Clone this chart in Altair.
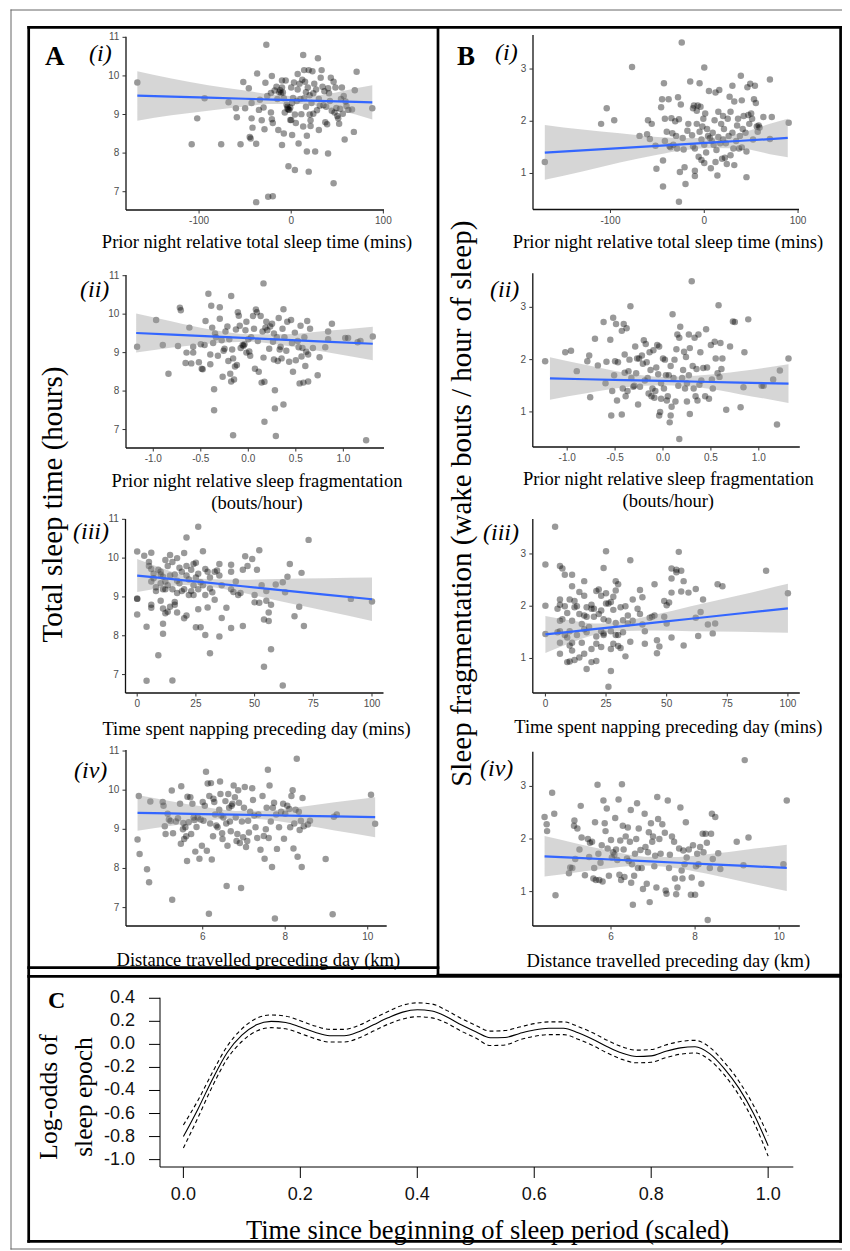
import altair as alt
import pandas as pd

SERIF = "Liberation Serif"
SANS = "Liberation Sans"

# ---------------- Panel A: total sleep time (hours) ----------------
ai_pts = [(-167, 9.83), (-102, 8.90), (-108, 8.23), (-94, 9.42), (-76, 8.23), (-68, 9.32), (-60, 9.16), (-59, 8.93),
          (-55, 8.23), (-52, 9.84), (-50, 9.16), (-46, 9.68), (-45, 8.42), (-43, 9.30), (-43, 8.90), (-42, 8.66),
          (-44, 8.38), (-38, 8.24), (-37, 10.06), (-38, 6.73), (-35, 9.12), (-34, 9.38), (-32, 8.85), (-30, 9.18),
          (-29, 8.62), (-28, 9.82), (-27, 10.81), (-26, 9.48), (-25, 6.87), (-20, 6.88), (-22, 9.05), (-22, 9.56),
          (-21, 10.0), (-21, 8.88), (-20, 8.78), (-18, 9.62), (-16, 9.72), (-15, 9.40), (-14, 8.60), (-13, 9.58),
          (-12, 9.63), (-11, 9.55), (-10, 9.70), (-10, 9.88), (-10, 8.21), (-9, 9.57), (-8, 9.42), (-8, 8.51),
          (-7, 9.05), (-6, 9.88), (-5, 9.25), (-4, 9.15), (-4, 9.20), (-3, 9.13), (-3, 7.66), (-2, 9.12), (-1, 9.18),
          (-1, 8.86), (0, 8.86), (0, 9.70), (1, 8.47), (1, 9.30), (2, 9.43), (3, 9.83), (4, 7.56), (4, 9.00),
          (5, 8.78), (6, 9.35), (7, 9.65), (7, 10.05), (8, 8.25), (9, 9.80), (10, 9.40), (11, 9.01), (12, 9.90),
          (13, 10.54), (13, 8.69), (14, 9.42), (14, 10.15), (15, 9.85), (16, 9.20), (16, 9.58), (17, 8.04), (17, 8.45),
          (18, 9.70), (19, 10.15), (19, 7.52), (20, 9.50), (20, 9.00), (21, 8.85), (21, 8.70), (22, 9.30), (23, 10.12),
          (24, 9.55), (24, 9.02), (25, 9.80), (26, 8.04), (27, 9.65), (28, 9.11), (29, 10.46), (30, 9.40), (30, 8.60),
          (31, 9.23), (32, 9.95), (33, 10.15), (34, 9.72), (35, 9.24), (36, 9.60), (37, 8.80), (38, 9.20), (39, 8.75),
          (40, 7.99), (40, 9.68), (41, 9.55), (42, 9.35), (43, 9.95), (44, 9.10), (46, 7.22), (46, 9.85), (47, 9.05),
          (48, 9.70), (49, 9.17), (50, 8.96), (51, 8.90), (52, 8.76), (53, 9.15), (54, 9.40), (55, 9.70), (56, 9.02),
          (57, 9.48), (58, 8.35), (59, 9.34), (60, 9.22), (62, 9.12), (66, 9.13), (68, 8.55), (69, 9.63), (71, 10.11),
          (88, 9.16)]
ai_bx = [-167, -130, -90, -50, -20, 10, 40, 70, 88]
ai_lo = [8.84, 8.98, 9.10, 9.21, 9.27, 9.27, 9.17, 9.00, 8.87]
ai_hi = [10.12, 9.93, 9.76, 9.62, 9.52, 9.47, 9.53, 9.68, 9.76]
ai_fit = [9.487, 9.462, 9.435, 9.408, 9.388, 9.368, 9.348, 9.328, 9.316]

aii_pts = [(-1.17, 9.15), (-0.97, 9.85), (-0.90, 9.20), (-0.84, 8.45), (-0.74, 9.17), (-0.72, 10.17), (-0.71, 10.10),
           (-0.66, 8.73), (-0.65, 9.0), (-0.62, 9.65), (-0.60, 8.72), (-0.58, 9.00), (-0.58, 9.15), (-0.52, 8.75),
           (-0.50, 9.22), (-0.49, 8.58), (-0.48, 8.57), (-0.46, 9.2), (-0.45, 9.82), (-0.42, 10.53), (-0.40, 8.95),
           (-0.40, 8.70), (-0.39, 10.22), (-0.38, 9.65), (-0.37, 9.25), (-0.36, 8.05), (-0.36, 7.50), (-0.35, 9.50),
           (-0.34, 9.40), (-0.32, 8.92), (-0.30, 9.88), (-0.30, 10.18), (-0.28, 9.32), (-0.27, 8.37), (-0.26, 9.05),
           (-0.25, 9.1), (-0.24, 9.55), (-0.22, 9.68), (-0.21, 8.78), (-0.20, 9.35), (-0.19, 8.45), (-0.18, 10.47),
           (-0.18, 8.25), (-0.17, 9.08), (-0.16, 8.85), (-0.16, 6.85), (-0.15, 8.30), (-0.14, 8.64), (-0.13, 9.60),
           (-0.12, 8.68), (-0.11, 10.05), (-0.10, 9.96), (-0.09, 9.70), (-0.08, 9.12), (-0.06, 9.2), (-0.05, 9.18),
           (-0.04, 9.22), (-0.03, 9.58), (-0.02, 9.80), (-0.02, 9.0), (0.00, 9.35), (0.01, 9.03), (0.02, 8.92),
           (0.03, 9.40), (0.05, 9.95), (0.06, 9.62), (0.07, 8.58), (0.08, 10.12), (0.09, 10.05), (0.10, 9.30),
           (0.11, 8.50), (0.13, 9.95), (0.14, 8.22), (0.15, 9.55), (0.16, 10.80), (0.16, 8.87), (0.17, 7.20),
           (0.17, 8.24), (0.18, 9.65), (0.19, 9.80), (0.20, 9.58), (0.22, 9.10), (0.23, 9.68), (0.25, 9.75),
           (0.26, 9.28), (0.27, 9.50), (0.27, 8.82), (0.28, 8.02), (0.28, 7.55), (0.29, 6.83), (0.30, 9.40),
           (0.31, 8.78), (0.32, 9.90), (0.33, 9.08), (0.34, 9.15), (0.35, 8.85), (0.36, 9.62), (0.37, 10.13),
           (0.37, 7.65), (0.38, 9.40), (0.40, 9.05), (0.41, 9.80), (0.43, 8.76), (0.45, 9.85), (0.46, 9.25),
           (0.47, 8.50), (0.49, 9.52), (0.50, 8.80), (0.52, 9.30), (0.53, 9.14), (0.54, 8.20), (0.55, 9.70),
           (0.56, 8.90), (0.57, 9.12), (0.58, 8.22), (0.59, 9.40), (0.60, 8.65), (0.61, 9.02), (0.62, 9.82),
           (0.63, 8.95), (0.63, 8.25), (0.65, 9.62), (0.68, 9.12), (0.73, 8.41), (0.75, 8.88), (0.81, 9.14),
           (0.84, 9.35), (0.84, 9.55), (0.88, 9.75), (1.02, 9.38), (1.05, 9.38), (1.15, 9.27), (1.18, 9.30),
           (1.24, 6.72), (1.31, 9.42)]
aii_bx = [-1.18, -0.8, -0.4, 0.0, 0.4, 0.8, 1.31]
aii_lo = [9.0, 9.13, 9.24, 9.28, 9.18, 9.02, 8.80]
aii_hi = [10.02, 9.81, 9.60, 9.48, 9.48, 9.56, 9.67]
aii_fit = [9.51, 9.467, 9.422, 9.378, 9.333, 9.288, 9.23]

aiii_pts = [(0, 10.17), (0, 8.96), (0, 8.95), (0, 8.55), (3, 10.06), (4, 8.23), (4, 6.84), (5, 9.80), (5, 9.90),
            (6, 10.14), (6, 9.72), (6, 9.40), (6, 8.80), (6, 8.72), (7, 9.60), (7, 9.48), (8, 9.15), (8, 9.25),
            (9, 9.70), (9, 7.50), (10, 9.58), (10, 9.35), (10, 8.90), (10, 9.65), (11, 9.52), (11, 9.20), (11, 8.70),
            (11, 8.31), (11, 8.05), (12, 9.95), (12, 9.40), (12, 9.20), (12, 8.58), (13, 9.80), (13, 9.30), (13, 8.62),
            (14, 10.08), (14, 9.55), (14, 8.75), (15, 9.90), (15, 9.20), (15, 6.85), (16, 9.58), (16, 8.87), (16, 8.80),
            (17, 10.00), (17, 9.42), (17, 9.10), (17, 8.60), (18, 9.75), (18, 9.35), (19, 9.65), (19, 9.15),
            (20, 10.13), (20, 9.20), (20, 8.45), (21, 10.53), (21, 9.80), (21, 9.55), (21, 8.52), (22, 9.45),
            (22, 9.05), (23, 9.70), (23, 9.15), (24, 9.85), (24, 9.30), (24, 9.05), (25, 9.88), (25, 9.50), (25, 8.22),
            (26, 10.81), (26, 9.60), (26, 9.20), (26, 8.68), (27, 9.38), (27, 8.22), (28, 10.18), (28, 9.30),
            (29, 9.72), (29, 9.05), (29, 8.02), (30, 9.65), (30, 8.73), (31, 9.50), (31, 9.22), (31, 7.55), (32, 9.12),
            (33, 9.65), (33, 8.93), (34, 9.68), (35, 9.85), (35, 9.55), (35, 7.98), (36, 9.30), (36, 8.46), (38, 8.72),
            (40, 9.83), (40, 9.65), (40, 9.20), (40, 8.20), (41, 9.13), (42, 9.40), (43, 9.05), (44, 9.10), (45, 9.70),
            (45, 8.25), (46, 10.05), (47, 9.80), (49, 9.98), (50, 9.05), (50, 8.86), (51, 9.70), (52, 10.20),
            (52, 8.85), (53, 9.30), (54, 8.42), (54, 7.20), (55, 9.15), (55, 8.90), (56, 8.38), (56, 8.60), (57, 8.80),
            (57, 7.65), (59, 9.32), (62, 9.38), (62, 6.72), (63, 9.12), (64, 9.52), (65, 9.85), (67, 8.50), (69, 8.75),
            (70, 9.62), (71, 8.25), (73, 10.47), (91, 8.95), (100, 8.88)]
aiii_bx = [0, 10, 20, 30, 45, 60, 80, 100]
aiii_lo = [9.125, 9.229, 9.308, 9.272, 9.105, 8.904, 8.642, 8.38]
aiii_hi = [9.975, 9.749, 9.548, 9.462, 9.445, 9.464, 9.482, 9.50]
aiii_fit = [9.55, 9.489, 9.428, 9.367, 9.275, 9.184, 9.062, 8.94]

aiv_pts = [(4.42, 8.74), (4.45, 9.85), (4.47, 8.37), (4.65, 7.98), (4.70, 7.65), (4.73, 9.71), (5.03, 9.70),
           (5.05, 9.60), (5.08, 9.08), (5.10, 8.88), (5.15, 9.40), (5.18, 9.25), (5.22, 9.21), (5.25, 9.99),
           (5.26, 7.20), (5.28, 8.90), (5.35, 9.20), (5.40, 9.28), (5.45, 9.65), (5.47, 8.63), (5.48, 10.10),
           (5.52, 9.00), (5.53, 9.16), (5.55, 8.75), (5.58, 9.05), (5.60, 8.82), (5.62, 8.19), (5.63, 9.83),
           (5.66, 9.18), (5.70, 9.82), (5.72, 8.88), (5.75, 9.65), (5.78, 9.30), (5.80, 9.24), (5.82, 8.43),
           (5.85, 9.06), (5.88, 9.30), (5.92, 8.25), (5.95, 9.25), (5.98, 8.58), (6.00, 9.70), (6.02, 9.22),
           (6.05, 9.60), (6.08, 10.47), (6.10, 8.45), (6.12, 10.17), (6.15, 6.84), (6.16, 9.85), (6.18, 9.15),
           (6.20, 10.18), (6.22, 8.23), (6.25, 8.82), (6.26, 9.78), (6.28, 9.70), (6.30, 9.38), (6.33, 9.10),
           (6.36, 9.05), (6.40, 9.50), (6.42, 10.22), (6.43, 9.90), (6.45, 9.35), (6.47, 8.90), (6.48, 8.75),
           (6.50, 9.30), (6.55, 9.72), (6.57, 9.15), (6.58, 7.55), (6.60, 8.58), (6.62, 9.90), (6.64, 9.55),
           (6.66, 9.20), (6.68, 8.95), (6.70, 9.60), (6.72, 9.65), (6.75, 10.12), (6.78, 9.82), (6.80, 9.30),
           (6.82, 8.70), (6.84, 8.88), (6.86, 10.00), (6.88, 9.68), (6.90, 8.65), (6.93, 7.50), (6.95, 9.20),
           (6.98, 8.80), (7.00, 9.55), (7.02, 10.08), (7.05, 8.55), (7.08, 8.70), (7.10, 9.22), (7.12, 8.92),
           (7.15, 9.45), (7.20, 10.05), (7.22, 9.75), (7.25, 9.35), (7.28, 9.05), (7.32, 8.78), (7.35, 9.38),
           (7.40, 8.48), (7.45, 9.85), (7.48, 8.83), (7.50, 8.25), (7.53, 9.00), (7.55, 9.55), (7.58, 10.52),
           (7.60, 8.78), (7.62, 10.12), (7.65, 9.20), (7.68, 8.04), (7.70, 9.55), (7.73, 9.68), (7.75, 6.72),
           (7.78, 9.38), (7.80, 8.50), (7.85, 9.05), (7.90, 9.45), (7.95, 9.65), (7.97, 8.76), (8.00, 9.40),
           (8.05, 9.60), (8.10, 9.52), (8.12, 9.05), (8.15, 9.85), (8.18, 10.0), (8.20, 8.51), (8.22, 9.15),
           (8.25, 9.50), (8.28, 10.80), (8.30, 8.30), (8.33, 9.45), (8.35, 8.98), (8.38, 9.22), (8.40, 8.04),
           (8.42, 9.80), (8.45, 9.08), (8.55, 9.12), (8.60, 9.22), (8.98, 8.24), (9.15, 6.83), (9.18, 9.32),
           (9.25, 9.38), (10.08, 9.88), (10.18, 9.14)]
aiv_bx = [4.42, 5.2, 6.0, 6.8, 7.6, 8.4, 9.2, 10.18]
aiv_lo = [8.965, 9.085, 9.20, 9.28, 9.239, 9.114, 8.969, 8.80]
aiv_hi = [9.875, 9.725, 9.58, 9.47, 9.479, 9.574, 9.689, 9.82]
aiv_fit = [9.42, 9.405, 9.39, 9.375, 9.359, 9.344, 9.329, 9.31]

# ---------------- Panel B: sleep fragmentation ----------------
bi_pts = [(-170, 1.22), (-110, 1.95), (-104, 2.25), (-96, 2.02), (-77, 3.04), (-69, 1.72), (-61, 1.75), (-60, 2.02),
          (-58, 1.66), (-56, 1.95), (-52, 1.53), (-51, 1.09), (-46, 2.27), (-45, 2.42), (-44, 1.25), (-44, 0.75),
          (-43, 2.73), (-42, 2.05), (-42, 1.62), (-40, 1.80), (-38, 2.42), (-37, 1.52), (-36, 1.50), (-35, 2.06),
          (-34, 1.77), (-33, 1.55), (-31, 2.00), (-30, 1.72), (-29, 1.48), (-28, 2.46), (-27, 2.04), (-27, 0.46),
          (-26, 1.03), (-25, 2.32), (-24, 3.51), (-23, 1.68), (-22, 1.46), (-21, 1.12), (-20, 0.80), (-18, 1.82),
          (-17, 1.95), (-15, 2.76), (-13, 1.73), (-12, 2.25), (-12, 1.52), (-11, 2.30), (-10, 1.05), (-10, 0.95),
          (-10, 1.48), (-8, 2.20), (-8, 1.95), (-7, 2.30), (-6, 1.32), (-5, 2.73), (-5, 1.80), (-4, 2.28), (-3, 1.65),
          (-3, 1.26), (-2, 1.90), (-1, 2.05), (0, 3.03), (0, 1.55), (0, 1.20), (1, 2.15), (2, 1.40), (3, 1.85),
          (4, 1.72), (5, 2.58), (6, 1.68), (7, 1.10), (8, 1.62), (9, 1.78), (10, 1.55), (11, 2.02), (12, 2.55),
          (12, 1.22), (13, 1.45), (14, 0.96), (15, 1.70), (15, 2.18), (16, 2.60), (17, 1.58), (18, 1.95), (19, 1.28),
          (20, 2.10), (20, 1.65), (21, 1.85), (22, 1.30), (23, 1.58), (24, 1.18), (25, 2.05), (26, 1.72), (27, 2.47),
          (28, 1.35), (28, 2.18), (30, 2.68), (30, 1.78), (31, 1.48), (32, 1.16), (32, 2.38), (34, 1.62), (35, 1.92),
          (36, 2.05), (37, 1.48), (38, 1.72), (39, 2.87), (40, 2.40), (40, 1.50), (41, 1.85), (42, 2.10), (44, 1.78),
          (45, 0.93), (45, 1.42), (46, 2.65), (47, 2.12), (48, 1.95), (49, 2.72), (50, 2.15), (51, 2.05), (52, 1.65),
          (53, 2.42), (54, 2.68), (55, 2.35), (56, 1.90), (57, 1.80), (58, 1.92), (59, 1.88), (63, 2.08), (70, 2.80),
          (70, 1.66), (72, 2.08), (90, 1.97)]
bi_bx = [-170, -130, -90, -50, -20, 10, 40, 70, 89]
bi_lo = [0.88, 1.04, 1.21, 1.36, 1.45, 1.49, 1.48, 1.37, 1.31]
bi_hi = [1.93, 1.84, 1.77, 1.70, 1.68, 1.69, 1.78, 1.95, 2.05]
bi_fit = [1.40, 1.443, 1.486, 1.53, 1.562, 1.594, 1.627, 1.659, 1.68]

bii_pts = [(-1.23, 1.97), (-1.02, 2.14), (-0.96, 2.17), (-0.90, 1.78), (-0.79, 1.97), (-0.77, 2.08), (-0.76, 1.28),
           (-0.71, 2.40), (-0.68, 1.89), (-0.62, 2.72), (-0.60, 1.55), (-0.59, 1.96), (-0.55, 2.38), (-0.54, 0.93),
           (-0.53, 1.40), (-0.52, 2.80), (-0.51, 1.70), (-0.50, 1.97), (-0.49, 2.68), (-0.48, 1.22), (-0.47, 1.95),
           (-0.43, 2.55), (-0.43, 0.95), (-0.42, 1.45), (-0.41, 2.68), (-0.40, 1.75), (-0.40, 2.10), (-0.39, 1.30),
           (-0.38, 2.60), (-0.37, 1.40), (-0.36, 1.78), (-0.35, 2.00), (-0.34, 3.02), (-0.33, 1.65), (-0.31, 1.48),
           (-0.30, 1.50), (-0.29, 2.25), (-0.28, 1.74), (-0.27, 2.02), (-0.26, 1.14), (-0.25, 2.02), (-0.24, 1.48),
           (-0.22, 2.08), (-0.21, 1.92), (-0.20, 2.37), (-0.19, 1.60), (-0.18, 2.30), (-0.17, 1.95), (-0.16, 1.65),
           (-0.15, 1.35), (-0.14, 2.14), (-0.13, 1.80), (-0.12, 1.30), (-0.11, 1.45), (-0.10, 2.18), (-0.09, 1.27),
           (-0.08, 1.40), (-0.07, 1.85), (-0.06, 2.28), (-0.05, 1.72), (-0.04, 2.25), (-0.04, 0.93), (-0.03, 1.00),
           (-0.02, 1.55), (-0.02, 1.25), (0.00, 2.02), (0.01, 1.45), (0.02, 2.00), (0.03, 1.70), (0.04, 1.22),
           (0.05, 1.30), (0.06, 1.70), (0.07, 0.80), (0.08, 1.88), (0.08, 0.93), (0.09, 1.10), (0.10, 2.87),
           (0.11, 1.65), (0.12, 2.00), (0.13, 1.20), (0.14, 2.20), (0.15, 2.48), (0.16, 1.50), (0.17, 2.42),
           (0.17, 0.48), (0.18, 2.63), (0.20, 1.65), (0.21, 1.80), (0.22, 2.15), (0.23, 1.45), (0.24, 2.05),
           (0.25, 1.55), (0.25, 1.20), (0.27, 2.48), (0.27, 1.70), (0.28, 0.96), (0.28, 2.22), (0.30, 3.50),
           (0.31, 1.88), (0.32, 1.45), (0.33, 2.42), (0.34, 1.30), (0.35, 1.82), (0.36, 1.22), (0.37, 2.48),
           (0.38, 1.52), (0.39, 2.14), (0.40, 1.60), (0.42, 1.84), (0.44, 1.30), (0.45, 2.58), (0.46, 1.85),
           (0.48, 1.25), (0.50, 2.28), (0.51, 1.62), (0.52, 1.45), (0.54, 2.34), (0.55, 2.02), (0.57, 1.74),
           (0.58, 3.04), (0.59, 1.67), (0.60, 2.32), (0.61, 1.82), (0.62, 2.02), (0.66, 1.04), (0.70, 2.25),
           (0.73, 2.73), (0.75, 2.72), (0.81, 1.09), (0.84, 1.47), (0.85, 2.14), (0.89, 2.77), (1.03, 1.50),
           (1.05, 1.50), (1.15, 1.62), (1.19, 0.76), (1.22, 1.79), (1.31, 2.02)]
bii_bx = [-1.18, -0.8, -0.4, 0.0, 0.4, 0.8, 1.31]
bii_lo = [1.235, 1.355, 1.47, 1.51, 1.46, 1.34, 1.17]
bii_hi = [2.045, 1.895, 1.75, 1.67, 1.70, 1.78, 1.91]
bii_fit = [1.64, 1.625, 1.609, 1.593, 1.577, 1.56, 1.54]

biii_pts = [(0, 2.80), (0, 2.01), (0, 1.47), (4, 3.52), (5, 1.95), (5, 1.50), (6, 2.77), (6, 2.13), (6, 2.03),
            (6, 1.72), (6, 1.52), (6, 1.30), (6, 1.09), (7, 2.72), (7, 1.75), (8, 2.60), (8, 2.00), (8, 1.45),
            (9, 1.87), (9, 1.40), (9, 0.93), (10, 2.13), (10, 1.52), (10, 1.25), (10, 0.94), (11, 2.60), (11, 2.38),
            (11, 1.72), (11, 1.30), (11, 1.15), (12, 2.10), (12, 1.98), (12, 0.97), (13, 2.00), (13, 1.45), (14, 2.27),
            (14, 1.85), (14, 1.02), (15, 1.66), (15, 1.30), (16, 2.48), (16, 2.20), (16, 1.82), (16, 1.56), (16, 1.09),
            (17, 1.98), (17, 1.80), (17, 1.50), (17, 0.80), (18, 1.60), (19, 2.03), (19, 1.95), (19, 1.18), (19, 0.93),
            (20, 1.95), (20, 1.80), (21, 2.29), (21, 1.42), (21, 1.28), (21, 0.95), (22, 2.32), (22, 1.85), (23, 2.20),
            (23, 1.92), (23, 1.52), (23, 1.22), (24, 2.73), (24, 1.75), (24, 1.48), (24, 1.45), (25, 2.25), (25, 2.05),
            (25, 3.05), (26, 2.05), (26, 1.72), (26, 0.46), (27, 2.08), (27, 1.52), (27, 1.18), (27, 0.76), (28, 2.18),
            (28, 1.93), (28, 1.28), (29, 2.48), (29, 2.30), (29, 1.68), (29, 1.45), (30, 2.42), (30, 1.45), (30, 1.24),
            (31, 1.98), (31, 1.20), (32, 1.73), (32, 1.50), (33, 2.00), (33, 1.04), (34, 1.67), (34, 1.82), (35, 2.88),
            (35, 1.32), (36, 2.13), (36, 1.72), (38, 1.95), (39, 2.31), (39, 1.85), (40, 1.65), (40, 2.17), (41, 1.52),
            (41, 1.28), (43, 1.78), (44, 1.80), (45, 2.42), (45, 1.82), (46, 1.10), (46, 1.35), (47, 1.23), (49, 2.10),
            (49, 1.80), (50, 2.02), (50, 1.67), (51, 2.07), (52, 2.72), (52, 2.53), (52, 2.26), (52, 1.40), (54, 2.70),
            (54, 2.65), (55, 3.04), (56, 2.68), (56, 2.28), (57, 2.48), (57, 1.25), (59, 2.26), (62, 2.33), (62, 1.78),
            (63, 1.43), (64, 1.89), (65, 2.13), (67, 1.65), (69, 1.48), (70, 1.67), (71, 2.42), (73, 2.38), (91, 2.68),
            (100, 2.25)]
biii_bx = [0, 10, 20, 30, 45, 60, 80, 100]
biii_lo = [1.105, 1.29, 1.45, 1.52, 1.535, 1.52, 1.51, 1.49]
biii_hi = [1.815, 1.73, 1.67, 1.70, 1.835, 2.0, 2.21, 2.43]
biii_fit = [1.46, 1.51, 1.56, 1.61, 1.685, 1.76, 1.86, 1.96]

biv_pts = [(4.42, 2.42), (4.47, 2.28), (4.48, 2.15), (4.60, 2.88), (4.65, 2.48), (4.68, 0.93), (5.00, 1.35),
           (5.03, 1.46), (5.08, 1.45), (5.12, 2.25), (5.13, 2.35), (5.15, 1.62), (5.20, 2.20), (5.25, 1.80),
           (5.28, 2.63), (5.30, 2.03), (5.38, 1.31), (5.45, 2.00), (5.48, 1.66), (5.50, 1.93), (5.55, 1.95),
           (5.58, 1.25), (5.60, 1.45), (5.62, 2.32), (5.64, 1.22), (5.68, 3.03), (5.70, 1.72), (5.72, 1.22),
           (5.75, 1.55), (5.78, 1.88), (5.80, 1.19), (5.82, 2.73), (5.85, 2.30), (5.87, 2.15), (5.90, 2.58),
           (5.92, 1.82), (5.95, 1.30), (6.00, 1.98), (6.02, 1.65), (6.05, 1.75), (6.08, 1.70), (6.10, 2.40),
           (6.12, 1.80), (6.15, 1.60), (6.18, 2.75), (6.20, 1.32), (6.22, 1.97), (6.24, 1.22), (6.26, 3.04),
           (6.28, 2.25), (6.30, 1.80), (6.32, 1.28), (6.35, 2.05), (6.38, 1.63), (6.40, 2.22), (6.42, 1.58),
           (6.45, 1.95), (6.47, 2.55), (6.48, 1.17), (6.50, 1.52), (6.52, 0.75), (6.55, 1.30), (6.57, 1.72),
           (6.60, 2.00), (6.62, 2.68), (6.64, 1.45), (6.66, 2.20), (6.70, 1.79), (6.73, 1.45), (6.76, 1.05),
           (6.80, 2.48), (6.82, 1.85), (6.85, 1.15), (6.88, 1.75), (6.90, 2.13), (6.92, 0.80), (6.95, 2.30),
           (6.98, 1.95), (7.00, 2.05), (7.03, 1.48), (7.05, 1.68), (7.08, 1.08), (7.10, 2.80), (7.12, 2.38),
           (7.15, 2.00), (7.18, 1.72), (7.22, 2.28), (7.28, 2.12), (7.30, 1.02), (7.32, 0.96), (7.35, 2.73),
           (7.38, 1.45), (7.40, 1.70), (7.45, 2.05), (7.50, 1.95), (7.52, 1.25), (7.55, 0.95), (7.58, 1.08),
           (7.62, 1.82), (7.65, 2.60), (7.68, 1.40), (7.70, 1.25), (7.72, 1.78), (7.75, 1.52), (7.78, 2.32),
           (7.80, 1.65), (7.85, 1.80), (7.90, 0.94), (7.92, 1.27), (7.95, 1.88), (8.00, 0.94), (8.02, 1.48),
           (8.05, 1.72), (8.08, 1.52), (8.12, 1.85), (8.15, 1.15), (8.18, 2.10), (8.20, 1.75), (8.25, 2.10),
           (8.28, 1.93), (8.30, 0.46), (8.35, 1.45), (8.38, 2.10), (8.40, 2.48), (8.42, 1.62), (8.48, 2.42),
           (8.55, 1.73), (8.60, 1.43), (8.99, 1.95), (9.15, 1.50), (9.18, 3.50), (9.27, 2.03), (10.10, 1.52),
           (10.18, 2.73)]
biv_bx = [4.42, 5.2, 6.0, 6.8, 7.6, 8.4, 9.2, 10.18]
biv_lo = [1.285, 1.37, 1.45, 1.495, 1.439, 1.319, 1.178, 1.011]
biv_hi = [2.055, 1.91, 1.77, 1.665, 1.659, 1.719, 1.798, 1.891]
biv_fit = [1.67, 1.64, 1.61, 1.58, 1.549, 1.519, 1.488, 1.451]

# ---------------- Panel C: log-odds of sleep epoch ----------------
c_t = [0.0, 0.025, 0.05, 0.075, 0.1, 0.125, 0.15, 0.175, 0.2, 0.225, 0.25, 0.275, 0.3, 0.325, 0.35, 0.375, 0.4,
       0.425, 0.45, 0.475, 0.5, 0.525, 0.55, 0.575, 0.6, 0.625, 0.65, 0.675, 0.7, 0.725, 0.75, 0.775, 0.8, 0.825,
       0.85, 0.875, 0.9, 0.925, 0.95, 0.975, 1.0]
c_fit = [-0.80, -0.56, -0.30, -0.07, 0.08, 0.17, 0.20, 0.19, 0.15, 0.105, 0.075, 0.075, 0.11, 0.17, 0.23, 0.28,
         0.30, 0.29, 0.24, 0.17, 0.11, 0.058, 0.06, 0.095, 0.125, 0.14, 0.14, 0.10, 0.045, -0.02, -0.075, -0.105,
         -0.10, -0.06, -0.03, -0.02, -0.08, -0.21, -0.38, -0.60, -0.88]
c_hi = [-0.70, -0.485, -0.24, -0.015, 0.135, 0.225, 0.255, 0.245, 0.205, 0.16, 0.13, 0.13, 0.165, 0.225, 0.285,
        0.34, 0.36, 0.35, 0.295, 0.225, 0.165, 0.115, 0.12, 0.15, 0.18, 0.195, 0.195, 0.155, 0.10, 0.035, -0.02,
        -0.05, -0.045, -0.005, 0.025, 0.035, -0.025, -0.155, -0.32, -0.53, -0.79]
c_lo = [-0.90, -0.635, -0.36, -0.125, 0.025, 0.115, 0.145, 0.135, 0.095, 0.05, 0.02, 0.02, 0.055, 0.115, 0.175,
        0.22, 0.24, 0.23, 0.185, 0.115, 0.055, -0.01, -0.005, 0.04, 0.07, 0.085, 0.085, 0.045, -0.01, -0.075,
        -0.13, -0.16, -0.155, -0.115, -0.085, -0.075, -0.135, -0.265, -0.44, -0.67, -0.97]

# ---------------- tick values and labels ----------------
A_TICKS = [7, 8, 9, 10, 11]
A_TLAB = ["7", "8", "9", "10", "11"]
B_TICKS = [1, 2, 3]
B_TLAB = ["1", "2", "3"]
TST_TICKS = [-100, 0, 100]
TST_TLAB = ["-100", "0", "100"]
FRAG_TICKS = [-1.0, -0.5, 0.0, 0.5, 1.0]
FRAG_TLAB = ["-1.0", "-0.5", "0.0", "0.5", "1.0"]
NAP_TICKS = [0, 25, 50, 75, 100]
NAP_TLAB = ["0", "25", "50", "75", "100"]
DIST_TICKS = [6, 8, 10]
DIST_TLAB = ["6", "8", "10"]
C_XTICKS = [0.0, 0.2, 0.4, 0.6, 0.8, 1.0]
C_XTLAB = ["0.0", "0.2", "0.4", "0.6", "0.8", "1.0"]
C_YTICKS = [-1.0, -0.8, -0.6, -0.4, -0.2, 0.0, 0.2, 0.4]
C_YTLAB = ["-1.0", "-0.8", "-0.6", "-0.4", "-0.2", "0.0", "0.2", "0.4"]

T_TST = "Prior night relative total sleep time (mins)"
T_FRAG = ["Prior night relative sleep fragmentation", "(bouts/hour)"]
T_NAP = "Time spent napping preceding day (mins)"
T_DIST = "Distance travelled preceding day (km)"

D = pd.DataFrame({"d": [0]})


def rule(x1, y1, x2, y2, color="black", width=2.7, cap="square"):
    return alt.Chart(D).mark_rule(color=color, strokeWidth=width, strokeCap=cap).encode(
        x=alt.value(x1), y=alt.value(y1), x2=alt.value(x2), y2=alt.value(y2))


def text(t, x, y, size, weight="normal", style="normal", angle=0, align="left", font=SERIF, color="black",
         line_height=22):
    return alt.Chart(D).mark_text(text=t, font=font, fontSize=size, fontWeight=weight, fontStyle=style,
                                  angle=angle, align=align, baseline="alphabetic", color=color,
                                  lineHeight=line_height).encode(x=alt.value(x), y=alt.value(y))


def axes(xs, ys, xr, yr, xt, xl, yt, yl, xtitle, title_y, fs=10, tick=3.5, lab_col="#4d4d4d",
         dom_col="#111111", dom_w=1.3, xlab_dy=14, ylab_dx=6.7, tick_col="#333333", title_fs=18.5):
    x0, x1 = xr
    yb, ytop = yr
    xdf = pd.DataFrame({"v": xt, "lab": xl})
    ydf = pd.DataFrame({"v": yt, "lab": yl})
    layers = [
        rule(x0, yb, x1, yb, color=dom_col, width=dom_w, cap="butt"),
        rule(x0, ytop, x0, yb, color=dom_col, width=dom_w, cap="butt"),
        alt.Chart(xdf).mark_rule(color=tick_col, strokeWidth=1).encode(
            x=alt.X("v:Q", scale=xs, axis=None), y=alt.value(yb), y2=alt.value(yb + tick)),
        alt.Chart(xdf).mark_text(font=SANS, fontSize=fs, color=lab_col, align="center",
                                 baseline="alphabetic").encode(
            x=alt.X("v:Q", scale=xs, axis=None), y=alt.value(yb + xlab_dy), text="lab:N"),
        alt.Chart(ydf).mark_rule(color=tick_col, strokeWidth=1).encode(
            y=alt.Y("v:Q", scale=ys, axis=None), x=alt.value(x0 - tick), x2=alt.value(x0)),
        alt.Chart(ydf).mark_text(font=SANS, fontSize=fs, color=lab_col, align="right",
                                 baseline="middle").encode(
            y=alt.Y("v:Q", scale=ys, axis=None), x=alt.value(x0 - ylab_dx), text="lab:N"),
    ]
    if xtitle:
        layers.append(text(xtitle, (x0 + x1) / 2 + 2, yb + title_y, title_fs, align="center"))
    return layers


def scatter(pts, bx, blo, bhi, bfit, xdom, ydom, xr, yr, xt, xl, yt, yl, xtitle, title_y, w, h, extra=()):
    pdf = pd.DataFrame(pts, columns=["x", "y"])
    bdf = pd.DataFrame({"x": bx, "lo": blo, "hi": bhi, "fit": bfit})
    xs = alt.Scale(domain=xdom, range=xr, nice=False, zero=False)
    ys = alt.Scale(domain=ydom, range=yr, nice=False, zero=False)
    points = alt.Chart(pdf).mark_circle(size=42, color="black", opacity=0.4).encode(
        x=alt.X("x:Q", scale=xs, axis=None), y=alt.Y("y:Q", scale=ys, axis=None))
    band = alt.Chart(bdf).mark_area(color="#999999", opacity=0.4, interpolate="monotone").encode(
        x=alt.X("x:Q", scale=xs, axis=None), y=alt.Y("lo:Q", scale=ys, axis=None), y2="hi:Q")
    line = alt.Chart(bdf).mark_line(color="#3366FF", strokeWidth=2.2).encode(
        x=alt.X("x:Q", scale=xs, axis=None), y=alt.Y("fit:Q", scale=ys, axis=None))
    ax = axes(xs, ys, xr, yr, xt, xl, yt, yl, xtitle, title_y)
    return alt.layer(points, band, line, *ax, *extra).properties(width=w, height=h)


# decorations, in pixel offsets from the top-left plot's origin (page x 125.5, y 35)
RX = 715.1   # right-hand border (the page leaves 834 px of width for the drawing)
deco = [
    rule(-114.5, -25, -114.5, 1214, color="#666666", width=1),
    rule(-114.5, -25, 717, -25, color="#666666", width=1),
    rule(-114.5, 1214, 717, 1214, color="#666666", width=1),
    rule(-96.8, -7.7, RX, -7.7),
    rule(-96.8, -7.7, -96.8, 1206.3),
    rule(312.5, -7.7, 312.5, 940),
    rule(RX, -7.7, RX, 1206.3),
    rule(-96.8, 932.7, 312.5, 932.7),
    rule(312.5, 940, RX, 940),
    rule(-96.8, 941.3, RX, 941.3),
    rule(-96.8, 1206.3, RX, 1206.3),
    text("A", -80.5, 30, 27, weight="bold"),
    text("B", 331.5, 30, 27, weight="bold"),
    text("C", -77.5, 973, 24, weight="bold"),
    text("(i)", -36.5, 26, 24, style="italic"),
    text("(i)", 369.5, 25, 24, style="italic"),
    text("(ii)", -45.5, 262, 24, style="italic"),
    text("(ii)", 364.5, 262, 24, style="italic"),
    text("(iii)", -52.5, 504, 24, style="italic"),
    text("(iii)", 357.5, 505, 24, style="italic"),
    text("(iv)", -51.5, 743, 24, style="italic"),
    text("(iv)", 354.5, 741, 24, style="italic"),
    text("Total sleep time (hours)", -63.5, 469.5, 29, angle=270, align="center"),
    text("Sleep fragmentation (wake bouts / hour of sleep)", 345.5, 468.7, 29, angle=270, align="center"),
    text("Log-odds of", -68.5, 1062, 25.5, angle=270, align="center"),
    text("sleep epoch", -33.5, 1062, 25.5, angle=270, align="center"),
    text("Time since beginning of sleep period (scaled)", 362, 1204, 26.5, align="center"),
]

W0, W1 = 406.5, 267.5
ai = scatter(ai_pts, ai_bx, ai_lo, ai_hi, ai_fit, [-179.3, 100.7], [6.526, 11.016], [0.5, 258.5], [175, 1.7],
             TST_TICKS, TST_TLAB, A_TICKS, A_TLAB, T_TST, 38.3, W0, 175, extra=deco)
bi = scatter(bi_pts, bi_bx, bi_lo, bi_hi, bi_fit, [-182.6, 101], [0.31, 3.652], [0.5, 266.5], [174.5, 0],
             TST_TICKS, TST_TLAB, B_TICKS, B_TLAB, T_TST, 38.7, W1, 175)
aii = scatter(aii_pts, aii_bx, aii_lo, aii_hi, aii_fit, [-1.287, 1.428], [6.52, 11.018], [0.5, 258.5], [238, 65],
              FRAG_TICKS, FRAG_TLAB, A_TICKS, A_TLAB, T_FRAG, 39.3, W0, 238)
bii = scatter(bii_pts, bii_bx, bii_lo, bii_hi, bii_fit, [-1.359, 1.428], [0.329, 3.651], [0.3, 267.3], [237, 63.3],
              FRAG_TICKS, FRAG_TLAB, B_TICKS, B_TLAB, T_FRAG, 38, W1, 238)
aiii = scatter(aiii_pts, aiii_bx, aiii_lo, aiii_hi, aiii_fit, [-4.98, 104.9], [6.525, 11.008], [0, 258], [245, 71],
               NAP_TICKS, NAP_TLAB, A_TICKS, A_TLAB, T_NAP, 42, W0, 245)
biii = scatter(biii_pts, biii_bx, biii_lo, biii_hi, biii_fit, [-5.2, 104.9], [0.339, 3.669], [0.3, 267.3],
               [245, 71], NAP_TICKS, NAP_TLAB, B_TICKS, B_TLAB, T_NAP, 40, W1, 245)
aiv = scatter(aiv_pts, aiv_bx, aiv_lo, aiv_hi, aiv_fit, [4.14, 10.46], [6.53, 11.026], [0.5, 261.2], [233, 57],
              DIST_TICKS, DIST_TLAB, A_TICKS, A_TLAB, T_DIST, 40.3, W0, 233)
biv = scatter(biv_pts, biv_bx, biv_lo, biv_hi, biv_fit, [4.14, 10.49], [0.346, 3.66], [0.3, 267.3], [233, 58.7],
              DIST_TICKS, DIST_TLAB, B_TICKS, B_TLAB, T_DIST, 40.7, W1, 233)

# ---------------- panel C ----------------
cdf = pd.DataFrame({"t": c_t, "fit": c_fit, "lo": c_lo, "hi": c_hi})
CXR, CYR = [34.5, 667.8], [241, 71.7]
cxs = alt.Scale(domain=[-0.04, 1.043], range=CXR, nice=False, zero=False)
cys = alt.Scale(domain=[-1.064, 0.405], range=CYR, nice=False, zero=False)
c_mid = alt.Chart(cdf).mark_line(color="black", strokeWidth=1.1, interpolate="monotone").encode(
    x=alt.X("t:Q", scale=cxs, axis=None), y=alt.Y("fit:Q", scale=cys, axis=None))
c_up = alt.Chart(cdf).mark_line(color="black", strokeWidth=1.1, strokeDash=[4, 3], interpolate="monotone").encode(
    x=alt.X("t:Q", scale=cxs, axis=None), y=alt.Y("hi:Q", scale=cys, axis=None))
c_dn = alt.Chart(cdf).mark_line(color="black", strokeWidth=1.1, strokeDash=[4, 3], interpolate="monotone").encode(
    x=alt.X("t:Q", scale=cxs, axis=None), y=alt.Y("lo:Q", scale=cys, axis=None))
c_axes = axes(cxs, cys, CXR, CYR, C_XTICKS, C_XTLAB, C_YTICKS, C_YTLAB, None, 0, fs=18, tick=11,
              lab_col="#111111", dom_col="black", dom_w=1, xlab_dy=33, ylab_dx=25, tick_col="black")
cpanel = alt.layer(c_mid, c_up, c_dn, *c_axes).properties(width=W0, height=241)

# grid origin placed at page (125.5, 35); the svg is 834 x 1243 so it fits the page without rescaling
chart = alt.concat(ai, bi, aii, bii, aiii, biii, aiv, biv, cpanel, columns=2, spacing=0, bounds="flush",
                   align="each").properties(
    padding={"left": 117.5, "top": 27, "right": 716.5, "bottom": 1216},
    autosize=alt.AutoSizeParams(type="none"),
    background="white",
).configure_view(stroke=None)

chart.save("out.html", embed_options={"renderer": "svg", "actions": False})
